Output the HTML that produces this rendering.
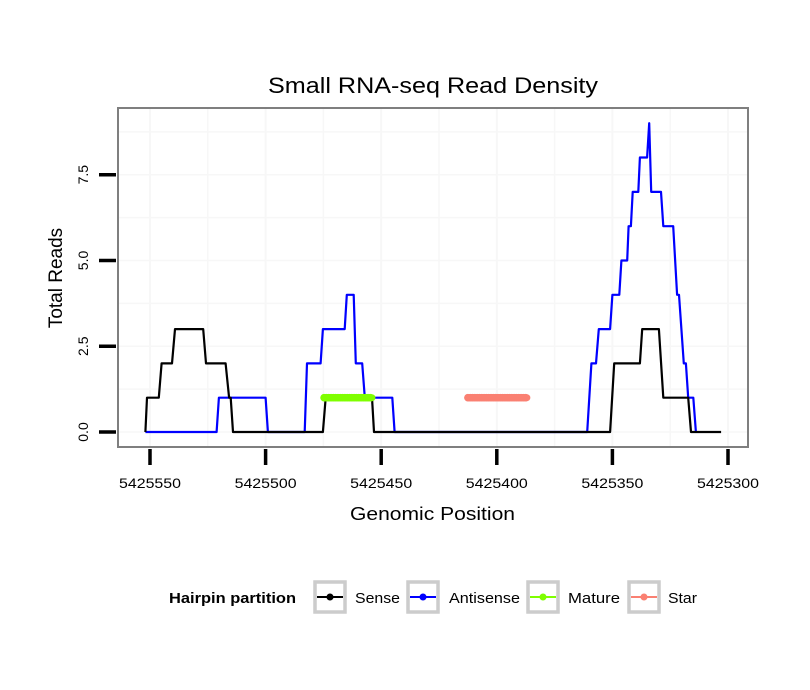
<!DOCTYPE html>
<html><head><meta charset="utf-8"><style>
body{margin:0;background:#fff;}
svg{display:block;font-family:"Liberation Sans",sans-serif;}
</style></head><body>
<svg id="c" width="810" height="690" viewBox="0 0 810 690">
<rect width="810" height="690" fill="#fff"/>
<text x="268" y="93" textLength="330" lengthAdjust="spacingAndGlyphs" font-size="22" fill="#000">Small RNA-seq Read Density</text>
<g id="grid"></g>
<g id="series"></g>
<rect x="118" y="108" width="630" height="339" fill="none" stroke="#7f7f7f" stroke-width="2"/>
<g id="axes"></g>
<text x="350" y="520" textLength="165" lengthAdjust="spacingAndGlyphs" font-size="18">Genomic Position</text>
<text transform="translate(62,278) rotate(-90)" text-anchor="middle" font-size="19">Total Reads</text>
<g font-size="15">
<text x="169" y="603" font-weight="bold" textLength="127" lengthAdjust="spacingAndGlyphs">Hairpin partition</text>
<g><rect x="315" y="582" width="30" height="30" fill="#fff" stroke="#ccc" stroke-width="3.5"/><line x1="317" y1="597" x2="343" y2="597" stroke="#000" stroke-width="2"/><circle cx="330" cy="597" r="3.5" fill="#000"/><text x="355" y="603" textLength="45" lengthAdjust="spacingAndGlyphs">Sense</text></g>
<g><rect x="408" y="582" width="30" height="30" fill="#fff" stroke="#ccc" stroke-width="3.5"/><line x1="410" y1="597" x2="436" y2="597" stroke="#00f" stroke-width="2"/><circle cx="423" cy="597" r="3.5" fill="#00f"/><text x="449" y="603" textLength="71" lengthAdjust="spacingAndGlyphs">Antisense</text></g>
<g><rect x="528" y="582" width="30" height="30" fill="#fff" stroke="#ccc" stroke-width="3.5"/><line x1="530" y1="597" x2="556" y2="597" stroke="#7fff00" stroke-width="2"/><circle cx="543" cy="597" r="3.5" fill="#7fff00"/><text x="568" y="603" textLength="52" lengthAdjust="spacingAndGlyphs">Mature</text></g>
<g><rect x="629" y="582" width="30" height="30" fill="#fff" stroke="#ccc" stroke-width="3.5"/><line x1="631" y1="597" x2="657" y2="597" stroke="#fa8072" stroke-width="2"/><circle cx="644" cy="597" r="3.5" fill="#fa8072"/><text x="668" y="603" textLength="29" lengthAdjust="spacingAndGlyphs">Star</text></g>
</g>
</svg>
<script>
const xTicks=[5425550,5425500,5425450,5425400,5425350,5425300];
const xTickLabels=["5425550","5425500","5425450","5425400","5425350","5425300"];
const yTicks=[0,2.5,5,7.5];
const yTickLabels=["0.0","2.5","5.0","7.5"];
const sensePos=[5425552,5425551.3,5425546.2,5425545,5425540.5,5425539.2,5425527,5425525.8,5425517.3,5425515.8,5425515.1,5425514.1,5425475.2,5425474,5425454,5425453.1,5425351,5425349.2,5425338.1,5425337.1,5425329.9,5425328,5425317.2,5425316,5425303];
const senseVal=[0,1,1,2,2,3,3,2,2,1,1,0,0,1,1,0,0,2,2,3,3,1,1,0,0];
const antiPos=[5425552,5425521.2,5425520.2,5425500,5425499,5425483.1,5425482.1,5425476.2,5425475.2,5425465.8,5425464.9,5425461.9,5425461,5425458.2,5425457.1,5425445.2,5425444.2,5425360.9,5425359.1,5425357.1,5425355.9,5425351,5425350,5425347,5425346.1,5425343.6,5425343,5425342,5425341.2,5425338.8,5425338.1,5425335,5425334.1,5425333.2,5425329,5425328,5425323.7,5425322,5425321.2,5425319.1,5425318.2,5425317.2,5425315,5425313.9];
const antiVal=[0,0,1,1,0,0,2,2,3,3,4,4,2,2,1,1,0,0,2,2,3,3,4,4,5,5,6,6,7,7,8,8,9,7,7,6,6,4,4,2,2,1,1,0];
const maturePos=[5425474.7,5425454];
const matureVal=[1,1];
const starPos=[5425412.5,5425387];
const starVal=[1,1];
const NS='http://www.w3.org/2000/svg';
const X=p=>150+(5425550-p)*(578/250);
const Y=v=>432-v*(432-174.7)/7.5;
function mk(t,a,parent){const e=document.createElementNS(NS,t);for(const k in a)e.setAttribute(k,a[k]);parent.appendChild(e);return e;}
const grid=document.getElementById('grid'),ser=document.getElementById('series'),axes=document.getElementById('axes');
mk('rect',{x:118,y:108,width:630,height:339,fill:'#fff'},grid);
for(let p=5425575;p>=5425275;p-=25){const x=X(p);if(x<118||x>748)continue;const g=mk('line',{x1:x,x2:x,y1:108,y2:447,stroke:'#f7f7f7','stroke-width':(p%50===0)?2:1.5},grid);}
for(let v=-1.25;v<=10;v+=1.25){const y=Y(v);if(y<108||y>447)continue;const g=mk('line',{x1:118,x2:748,y1:y,y2:y,stroke:'#f7f7f7','stroke-width':1.5},grid);}
function path(ps,vs,col,name){const d=ps.map((p,i)=>(i?'L':'M')+X(p).toFixed(1)+','+Y(vs[i]).toFixed(1)).join('');const e=mk('path',{d:d,fill:'none',stroke:col,'stroke-width':2.2,'stroke-linejoin':'round'},ser);}
path(antiPos,antiVal,'#0000ff','antisense-line');
path(sensePos,senseVal,'#000000','sense-line');
function seg(ps,vs,col,name){const e=mk('line',{x1:X(ps[0]),y1:Y(vs[0]),x2:X(ps[1]),y2:Y(vs[1]),stroke:col,'stroke-width':7,'stroke-linecap':'round'},ser);
for(let p=ps[0];p>=ps[1];p-=1){const c=mk('circle',{cx:X(p),cy:Y(vs[0]),r:3.8,fill:col},ser);}}
seg(maturePos,matureVal,'#7fff00','mature-segment');
seg(starPos,starVal,'#fa8072','star-segment');
xTicks.forEach((p,i)=>{const x=X(p);const t=mk('line',{x1:x,x2:x,y1:449,y2:465,stroke:'#000','stroke-width':3.5},axes);
const l=mk('text',{x:x-31,y:488,textLength:62,lengthAdjust:'spacingAndGlyphs','font-size':14},axes);l.textContent=xTickLabels[i];});
yTicks.forEach((v,i)=>{const y=Y(v);const t=mk('line',{x1:99,x2:116,y1:y,y2:y,stroke:'#000','stroke-width':3.5},axes);
const l=mk('text',{transform:'translate(88,'+y+') rotate(-90)','text-anchor':'middle','font-size':14},axes);l.textContent=yTickLabels[i];});
</script>
</body></html>
